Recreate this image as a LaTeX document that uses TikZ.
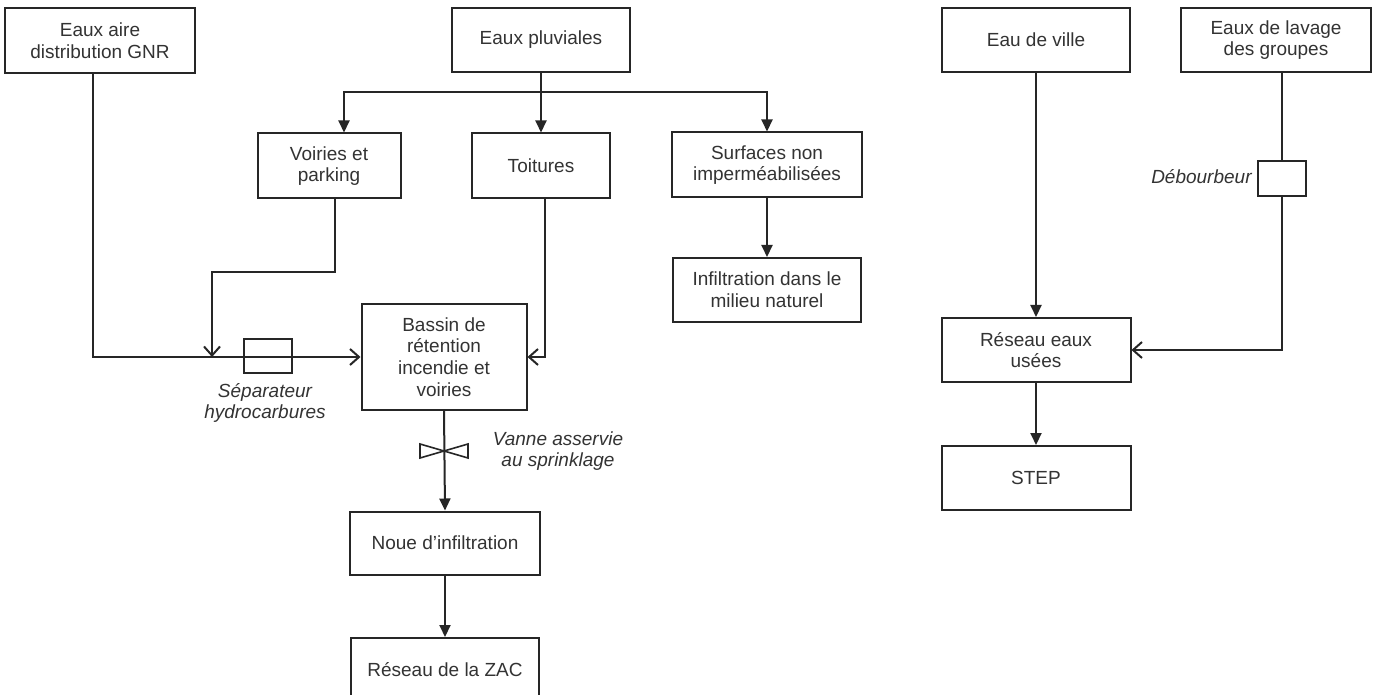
\documentclass[tikz,border=0pt]{standalone}
\usepackage{fontspec}
\setmainfont{Liberation Sans}
\usetikzlibrary{arrows.meta,calc}
\begin{document}
\begin{tikzpicture}[x=0.5pt,y=-0.5pt,
  box/.style={draw=black!85, line width=1pt, fill=white, text=black!80, align=center,
    inner sep=0pt, font=\fontsize{9.5}{10.8}\selectfont},
  ln/.style={line width=1pt, draw=black!85},
  fa/.style={ln, -{Triangle[length=6pt,width=5.5pt]}},
  oa/.style={ln, -{Straight Barb[length=4.5pt,width=8pt]}},
  lbl/.style={font=\itshape\fontsize{9.5}{10.8}\selectfont, text=black!80, align=center, inner sep=0pt}]
\useasboundingbox (0,0) rectangle (1376,695);
\clip (0,0) rectangle (1376,695);
\fill[white] (0,0) rectangle (1376,695);

% boxes
\node[box, minimum width=95pt, minimum height=32.5pt] (gnr) at (100,41) {Eaux aire\\distribution GNR};
\node[box, minimum width=89pt, minimum height=32pt] (pluv) at (541,40) {Eaux pluviales};
\node[box, minimum width=94pt, minimum height=32pt] (ville) at (1036,40) {Eau de ville};
\node[box, minimum width=95pt, minimum height=32pt] (lavage) at (1276,40) {Eaux de lavage\\des groupes};
\node[box, minimum width=71.5pt, minimum height=32.5pt] (voiries) at (329,166) {Voiries et\\parking};
\node[box, minimum width=69pt, minimum height=32.5pt] (toit) at (541,166) {Toitures};
\node[box, minimum width=95pt, minimum height=32.5pt] (surf) at (767,165) {Surfaces non\\imperméabilisées};
\node[box, minimum width=94pt, minimum height=32pt] (infil) at (767,290) {Infiltration dans le\\milieu naturel};
\node[box, minimum width=82.5pt, minimum height=53pt] (bassin) at (444,357) {Bassin de\\rétention\\incendie et\\voiries};
\node[box, minimum width=95pt, minimum height=31.5pt] (noue) at (445,543) {Noue d'infiltration};
\node[box, minimum width=94pt, minimum height=32pt] (zac) at (445,670) {Réseau de la ZAC};
\node[box, minimum width=94.5pt, minimum height=32pt] (reseau) at (1036,350) {Réseau eaux\\usées};
\node[box, minimum width=94.5pt, minimum height=32pt] (step) at (1036,478) {STEP};
\node[box, minimum width=24pt, minimum height=17pt, fill=none] (sep) at (268,356) {};
\node[box, minimum width=24pt, minimum height=17.5pt] (debour) at (1282,179) {};

% connectors
\coordinate (br) at (541,92);
\coordinate (j1) at (212,357);
\draw[ln] (pluv.south) -- (br);
\draw[fa] (br) -- (toit.north);
\draw[fa] (br) -| ($(voiries.north)+(15,0)$);
\draw[fa] (br) -| (surf.north);
\draw[fa] (surf.south) -- (infil.north);
\draw[oa] ($(gnr.south)+(-7,0)$) |- (bassin.west);
\draw[oa] ($(voiries.south)+(6,0)$) -- ++(0,73) -| (j1);
\draw[oa] ($(toit.south)+(4,0)$) |- (bassin.east);
\draw[fa] (bassin.south) -- (noue.north);
\draw[fa] (noue.south) -- (zac.north);
\draw[fa] (ville.south) -- (reseau.north);
\draw[fa] (reseau.south) -- (step.north);
\draw[ln] (debour.north |- lavage.south) -- (debour.north);
\draw[oa] (debour.south) |- (reseau.east);

% valve
\draw[ln, line width=0.8pt, fill=white] (420,444) -- (420,458) -- (468,444) -- (468,458) -- cycle;

% labels
\node[lbl] (seplbl) at (265,403) {Séparateur\\hydrocarbures};
\node[lbl] (vanlbl) at (558,451) {Vanne asservie\\au sprinklage};
\node[lbl, anchor=base east] (deblbl) at (1252,184) {Débourbeur};
\end{tikzpicture}
\end{document}
